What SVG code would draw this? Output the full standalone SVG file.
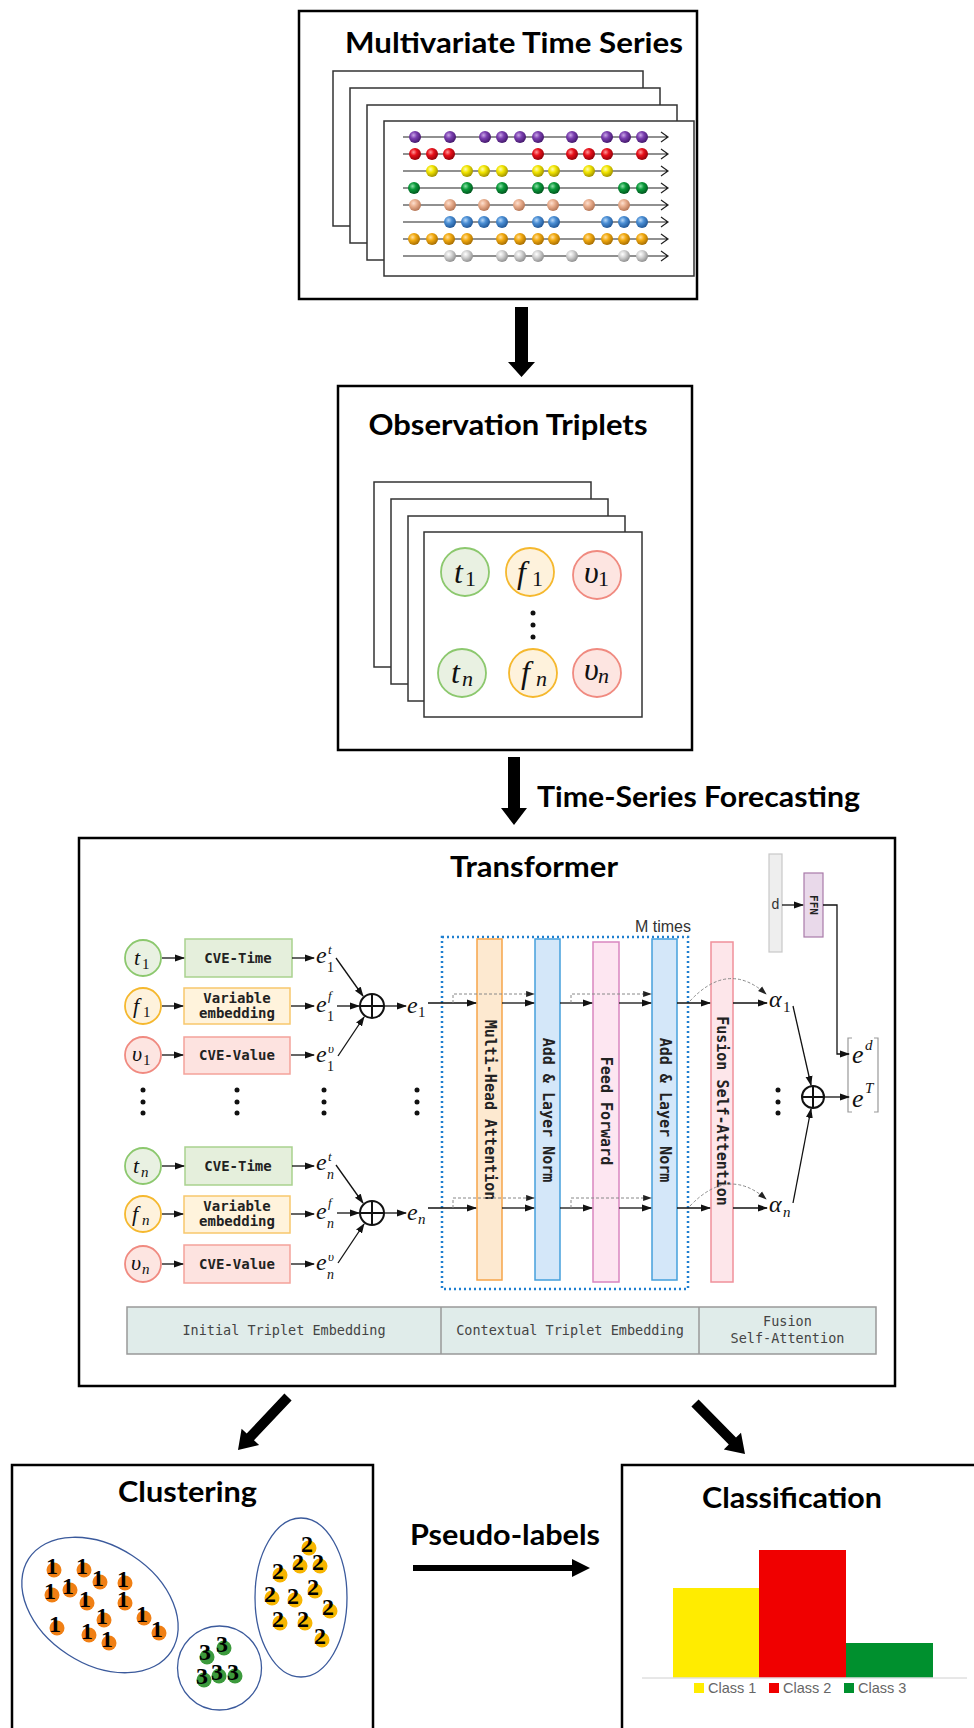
<svg xmlns="http://www.w3.org/2000/svg" width="974" height="1728" viewBox="0 0 974 1728">
<defs>
<style>
.box{fill:#fff;stroke:#000;stroke-width:2.5}
.page{fill:#fff;stroke:#333;stroke-width:1.5}
.title{font-family:Lato,"Open Sans",sans-serif;font-weight:700;font-size:28px;fill:#000}
.tl{stroke:#222;stroke-width:1.2;fill:none}
.mi{font-family:"Liberation Serif",serif;font-style:italic;fill:#111}
.mr{font-family:"Liberation Serif",serif;fill:#111}
.mono{font-family:"DejaVu Sans Mono",monospace;font-weight:700;font-size:14px;fill:#222;text-anchor:middle}
.vt{font-family:"DejaVu Sans Mono",monospace;font-weight:700;font-size:15px;fill:#222;text-anchor:middle}
.tab{font-family:"DejaVu Sans Mono",monospace;font-size:13.5px;fill:#444;text-anchor:middle}
.arr{stroke:#111;stroke-width:1.3;fill:none;marker-end:url(#ah)}
.dash{stroke:#888;stroke-width:1;stroke-dasharray:3 2;fill:none;marker-end:url(#ahg)}
.ct{fill:#e9f1e2;stroke:#8cc86e;stroke-width:1.8}
.cf{fill:#fef2dc;stroke:#f5b82e;stroke-width:1.8}
.cv{fill:#fde5e1;stroke:#f08a80;stroke-width:1.8}
.bt{fill:#e5efdc;stroke:#a9d28e;stroke-width:1.5}
.bf{fill:#fff3dc;stroke:#f8c76c;stroke-width:1.5}
.bv{fill:#fde3e0;stroke:#f4a29a;stroke-width:1.5}
.dot{fill:#111}
.op{fill:none;stroke:#111;stroke-width:2}
.num{font-family:"Liberation Serif",serif;font-weight:700;font-size:24px;fill:#000;text-anchor:middle}
.o1{fill:#f07f14}
.o2{fill:#f7b500}
.o3{fill:#3c9a3c}
.clu{fill:none;stroke:#3b5a9c;stroke-width:1.3}
.leg{font-family:"Liberation Sans",Arial,sans-serif;font-size:14.5px;fill:#666}
.bp{fill:url(#gP)}.br{fill:url(#gR)}.by{fill:url(#gY)}.bg{fill:url(#gG)}.bk{fill:url(#gK)}.bb{fill:url(#gB)}.bo{fill:url(#gO)}.bs{fill:url(#gS)}
</style>
<marker id="ah" viewBox="0 0 10 8" refX="9" refY="4" markerWidth="10" markerHeight="8" markerUnits="userSpaceOnUse" orient="auto"><path d="M0,0.5 L10,4 L0,7.5 z" fill="#111"/></marker>
<marker id="ahg" viewBox="0 0 10 8" refX="9" refY="4" markerWidth="9" markerHeight="7" markerUnits="userSpaceOnUse" orient="auto"><path d="M0,0.5 L10,4 L0,7.5 z" fill="#222"/></marker>
<radialGradient id="gP" cx="0.38" cy="0.35" r="0.7"><stop offset="0" stop-color="#c9a6e6"/><stop offset="0.4" stop-color="#7b3fb0"/><stop offset="1" stop-color="#3f1566"/></radialGradient>
<radialGradient id="gR" cx="0.38" cy="0.35" r="0.7"><stop offset="0" stop-color="#ff9a9a"/><stop offset="0.4" stop-color="#e8101a"/><stop offset="1" stop-color="#8a0008"/></radialGradient>
<radialGradient id="gY" cx="0.38" cy="0.35" r="0.7"><stop offset="0" stop-color="#fffbb0"/><stop offset="0.4" stop-color="#f2e600"/><stop offset="1" stop-color="#9a8a00"/></radialGradient>
<radialGradient id="gG" cx="0.38" cy="0.35" r="0.7"><stop offset="0" stop-color="#8de0a8"/><stop offset="0.4" stop-color="#0a9a3a"/><stop offset="1" stop-color="#00501c"/></radialGradient>
<radialGradient id="gK" cx="0.38" cy="0.35" r="0.7"><stop offset="0" stop-color="#fde0d0"/><stop offset="0.4" stop-color="#eab090"/><stop offset="1" stop-color="#b07050"/></radialGradient>
<radialGradient id="gB" cx="0.38" cy="0.35" r="0.7"><stop offset="0" stop-color="#b8d8f8"/><stop offset="0.4" stop-color="#4a8ed4"/><stop offset="1" stop-color="#1e5290"/></radialGradient>
<radialGradient id="gO" cx="0.38" cy="0.35" r="0.7"><stop offset="0" stop-color="#ffe0a0"/><stop offset="0.4" stop-color="#f2aa10"/><stop offset="1" stop-color="#a06800"/></radialGradient>
<radialGradient id="gS" cx="0.38" cy="0.35" r="0.7"><stop offset="0" stop-color="#ffffff"/><stop offset="0.4" stop-color="#d4d4d4"/><stop offset="1" stop-color="#8a8a8a"/></radialGradient>
</defs>
<rect width="974" height="1728" fill="#fff"/>

<!-- Multivariate Time Series -->
<g id="mts">
<rect class="box" x="299" y="11" width="398" height="288"/>
<text class="title" x="514" y="53" text-anchor="middle" textLength="338" lengthAdjust="spacingAndGlyphs">Multivariate Time Series</text>
<rect class="page" x="333" y="71" width="310" height="155"/>
<rect class="page" x="350" y="88" width="310" height="155"/>
<rect class="page" x="367" y="105" width="310" height="155"/>
<rect class="page" x="384" y="121" width="310" height="155"/>
<g class="tl">
<path d="M403,137 H668 M661,132 L668,137 L661,142"/>
<path d="M403,154 H668 M661,149 L668,154 L661,159"/>
<path d="M403,171 H668 M661,166 L668,171 L661,176"/>
<path d="M403,188 H668 M661,183 L668,188 L661,193"/>
<path d="M403,205 H668 M661,200 L668,205 L661,210"/>
<path d="M403,222 H668 M661,217 L668,222 L661,227"/>
<path d="M403,239 H668 M661,234 L668,239 L661,244"/>
<path d="M403,256 H668 M661,251 L668,256 L661,261"/>
</g>
<g class="bp"><circle cx="415" cy="137" r="6"/><circle cx="450" cy="137" r="6"/><circle cx="485" cy="137" r="6"/><circle cx="502" cy="137" r="6"/><circle cx="520" cy="137" r="6"/><circle cx="538" cy="137" r="6"/><circle cx="572" cy="137" r="6"/><circle cx="607" cy="137" r="6"/><circle cx="625" cy="137" r="6"/><circle cx="642" cy="137" r="6"/></g>
<g class="br"><circle cx="415" cy="154" r="6"/><circle cx="432" cy="154" r="6"/><circle cx="449" cy="154" r="6"/><circle cx="538" cy="154" r="6"/><circle cx="572" cy="154" r="6"/><circle cx="589" cy="154" r="6"/><circle cx="607" cy="154" r="6"/><circle cx="642" cy="154" r="6"/></g>
<g class="by"><circle cx="432" cy="171" r="6"/><circle cx="467" cy="171" r="6"/><circle cx="484" cy="171" r="6"/><circle cx="502" cy="171" r="6"/><circle cx="538" cy="171" r="6"/><circle cx="554" cy="171" r="6"/><circle cx="589" cy="171" r="6"/><circle cx="607" cy="171" r="6"/></g>
<g class="bg"><circle cx="414" cy="188" r="6"/><circle cx="467" cy="188" r="6"/><circle cx="502" cy="188" r="6"/><circle cx="538" cy="188" r="6"/><circle cx="554" cy="188" r="6"/><circle cx="624" cy="188" r="6"/><circle cx="642" cy="188" r="6"/></g>
<g class="bk"><circle cx="415" cy="205" r="6"/><circle cx="450" cy="205" r="6"/><circle cx="484" cy="205" r="6"/><circle cx="519" cy="205" r="6"/><circle cx="553" cy="205" r="6"/><circle cx="589" cy="205" r="6"/><circle cx="624" cy="205" r="6"/></g>
<g class="bb"><circle cx="450" cy="222" r="6"/><circle cx="467" cy="222" r="6"/><circle cx="484" cy="222" r="6"/><circle cx="502" cy="222" r="6"/><circle cx="538" cy="222" r="6"/><circle cx="554" cy="222" r="6"/><circle cx="607" cy="222" r="6"/><circle cx="624" cy="222" r="6"/><circle cx="642" cy="222" r="6"/></g>
<g class="bo"><circle cx="414" cy="239" r="6"/><circle cx="432" cy="239" r="6"/><circle cx="449" cy="239" r="6"/><circle cx="467" cy="239" r="6"/><circle cx="502" cy="239" r="6"/><circle cx="520" cy="239" r="6"/><circle cx="538" cy="239" r="6"/><circle cx="554" cy="239" r="6"/><circle cx="589" cy="239" r="6"/><circle cx="607" cy="239" r="6"/><circle cx="624" cy="239" r="6"/><circle cx="642" cy="239" r="6"/></g>
<g class="bs"><circle cx="450" cy="256" r="6"/><circle cx="467" cy="256" r="6"/><circle cx="502" cy="256" r="6"/><circle cx="520" cy="256" r="6"/><circle cx="538" cy="256" r="6"/><circle cx="572" cy="256" r="6"/><circle cx="624" cy="256" r="6"/><circle cx="642" cy="256" r="6"/></g>
</g>

<!-- Observation Triplets -->
<g id="obs">
<rect class="box" x="338" y="386" width="354" height="364"/>
<text class="title" x="508" y="435" font-size="27" text-anchor="middle" textLength="279" lengthAdjust="spacingAndGlyphs">Observation Triplets</text>
<rect class="page" x="374" y="482" width="217" height="185"/>
<rect class="page" x="391" y="499" width="217" height="185"/>
<rect class="page" x="408" y="516" width="217" height="185"/>
<rect class="page" x="424" y="532" width="218" height="185"/>
<circle class="ct" cx="465" cy="572" r="24"/>
<circle class="cf" cx="530" cy="572" r="24"/>
<circle class="cv" cx="597" cy="575" r="24"/>
<circle class="ct" cx="462" cy="673" r="24"/>
<circle class="cf" cx="533" cy="673" r="24"/>
<circle class="cv" cx="597" cy="673" r="24"/>
<text class="mi" x="454" y="583" font-size="32">t</text><text class="mr" x="465" y="586" font-size="22">1</text>
<text class="mi" x="517" y="583" font-size="32">f</text><text class="mr" x="532" y="586" font-size="22">1</text>
<text class="mi" x="584" y="583" font-size="32">υ</text><text class="mr" x="598" y="586" font-size="22">1</text>
<text class="mi" x="451" y="683" font-size="32">t</text><text class="mi" x="462" y="686" font-size="22">n</text>
<text class="mi" x="521" y="683" font-size="32">f</text><text class="mi" x="536" y="686" font-size="22">n</text>
<text class="mi" x="584" y="680" font-size="32">υ</text><text class="mi" x="598" y="683" font-size="22">n</text>
<circle class="dot" cx="533" cy="613" r="2.5"/><circle class="dot" cx="533" cy="625" r="2.5"/><circle class="dot" cx="533" cy="637" r="2.5"/>
</g>

<!-- Transformer -->
<g id="transformer">
<rect class="box" x="79" y="838" width="816" height="548"/>
<text class="title" x="450" y="877" textLength="168" lengthAdjust="spacingAndGlyphs">Transformer</text>

<g id="inputs">
<circle class="ct" cx="143" cy="958" r="18"/>
<circle class="cf" cx="143" cy="1006" r="18"/>
<circle class="cv" cx="143" cy="1055" r="18"/>
<circle class="ct" cx="143" cy="1166" r="18"/>
<circle class="cf" cx="143" cy="1214" r="18"/>
<circle class="cv" cx="143" cy="1264" r="18"/>
<text class="mi" x="134" y="965" font-size="22">t</text><text class="mr" x="142" y="969" font-size="15">1</text>
<text class="mi" x="133" y="1013" font-size="22">f</text><text class="mr" x="143" y="1017" font-size="15">1</text>
<text class="mi" x="132" y="1061" font-size="22">υ</text><text class="mr" x="143" y="1065" font-size="15">1</text>
<text class="mi" x="133" y="1173" font-size="22">t</text><text class="mi" x="141" y="1177" font-size="15">n</text>
<text class="mi" x="132" y="1221" font-size="22">f</text><text class="mi" x="142" y="1225" font-size="15">n</text>
<text class="mi" x="131" y="1270" font-size="22">υ</text><text class="mi" x="142" y="1274" font-size="15">n</text>
</g>

<g id="embeds">
<rect class="bt" x="185" y="939" width="107" height="38"/>
<rect class="bf" x="184" y="988" width="106" height="36"/>
<rect class="bv" x="184" y="1037" width="106" height="37"/>
<rect class="bt" x="185" y="1147" width="107" height="38"/>
<rect class="bf" x="184" y="1196" width="106" height="37"/>
<rect class="bv" x="184" y="1245" width="106" height="38"/>
<text class="mono" x="238" y="963">CVE-Time</text>
<text class="mono" x="237" y="1003">Variable</text><text class="mono" x="237" y="1018">embedding</text>
<text class="mono" x="237" y="1060">CVE-Value</text>
<text class="mono" x="238" y="1171">CVE-Time</text>
<text class="mono" x="237" y="1211">Variable</text><text class="mono" x="237" y="1226">embedding</text>
<text class="mono" x="237" y="1269">CVE-Value</text>
</g>

<g id="elabels">
<text class="mi" x="316" y="963" font-size="24">e</text><text class="mi" x="328" y="954" font-size="13">t</text><text class="mr" x="327" y="972" font-size="14">1</text>
<text class="mi" x="316" y="1012" font-size="24">e</text><text class="mi" x="328" y="1000" font-size="13">f</text><text class="mr" x="327" y="1021" font-size="14">1</text>
<text class="mi" x="316" y="1062" font-size="24">e</text><text class="mi" x="328" y="1053" font-size="13">υ</text><text class="mr" x="327" y="1071" font-size="14">1</text>
<text class="mi" x="316" y="1170" font-size="24">e</text><text class="mi" x="328" y="1161" font-size="13">t</text><text class="mi" x="327" y="1179" font-size="14">n</text>
<text class="mi" x="316" y="1219" font-size="24">e</text><text class="mi" x="328" y="1207" font-size="13">f</text><text class="mi" x="327" y="1228" font-size="14">n</text>
<text class="mi" x="316" y="1270" font-size="24">e</text><text class="mi" x="328" y="1261" font-size="13">υ</text><text class="mi" x="327" y="1279" font-size="14">n</text>
<circle class="op" cx="372" cy="1006" r="12"/><path class="op" d="M360,1006 H384 M372,994 V1018"/>
<circle class="op" cx="372" cy="1213" r="12"/><path class="op" d="M360,1213 H384 M372,1201 V1225"/>
<text class="mi" x="407" y="1013" font-size="24">e</text><text class="mr" x="418" y="1017" font-size="15">1</text>
<text class="mi" x="407" y="1220" font-size="24">e</text><text class="mi" x="418" y="1224" font-size="15">n</text>
</g>

<g id="dots">
<circle class="dot" cx="143" cy="1090" r="2.5"/><circle class="dot" cx="143" cy="1102" r="2.5"/><circle class="dot" cx="143" cy="1113" r="2.5"/>
<circle class="dot" cx="237" cy="1090" r="2.5"/><circle class="dot" cx="237" cy="1102" r="2.5"/><circle class="dot" cx="237" cy="1113" r="2.5"/>
<circle class="dot" cx="324" cy="1090" r="2.5"/><circle class="dot" cx="324" cy="1102" r="2.5"/><circle class="dot" cx="324" cy="1113" r="2.5"/>
<circle class="dot" cx="417" cy="1090" r="2.5"/><circle class="dot" cx="417" cy="1102" r="2.5"/><circle class="dot" cx="417" cy="1113" r="2.5"/>
<circle class="dot" cx="778" cy="1090" r="2.5"/><circle class="dot" cx="778" cy="1102" r="2.5"/><circle class="dot" cx="778" cy="1113" r="2.5"/>
</g>

<g id="mtimes">
<rect x="442" y="937" width="246" height="352" fill="none" stroke="#1f7fd0" stroke-width="2.5" stroke-dasharray="2 3"/>
<text x="691" y="932" text-anchor="end" font-family="'Liberation Sans',Arial,sans-serif" font-size="16" fill="#333">M times</text>
</g>

<g id="mha"><rect x="477" y="939" width="25" height="341" fill="#fde9d0" stroke="#f6a54a" stroke-width="1.5"/><text class="vt" transform="translate(489.5,1110) rotate(90)" y="5">Multi-Head Attention</text></g>
<g id="addnorm1"><rect x="535" y="939" width="25" height="341" fill="#d4e7f9" stroke="#45a0dc" stroke-width="1.5"/><text class="vt" transform="translate(547.5,1110) rotate(90)" y="5">Add &amp; Layer Norm</text></g>
<g id="ff"><rect x="593" y="942" width="26" height="340" fill="#fde6f1" stroke="#d986c0" stroke-width="1.5"/><text class="vt" transform="translate(606,1111) rotate(90)" y="5">Feed Forward</text></g>
<g id="addnorm2"><rect x="652" y="939" width="25" height="341" fill="#d4e7f9" stroke="#45a0dc" stroke-width="1.5"/><text class="vt" transform="translate(664.5,1110) rotate(90)" y="5">Add &amp; Layer Norm</text></g>
<g id="fusion"><rect x="711" y="942" width="22" height="340" fill="#fde6ea" stroke="#f0909a" stroke-width="1.5"/><text class="vt" transform="translate(722,1111) rotate(90)" y="5">Fusion Self-Attention</text></g>

<g id="dbar"><rect x="769" y="854" width="13" height="98" fill="#eeeeee" stroke="#c8c8c8" stroke-width="1.2"/><text x="775.5" y="909" text-anchor="middle" font-family="'Liberation Sans',Arial,sans-serif" font-size="14" fill="#333">d</text></g>
<g id="ffn"><rect x="804" y="873" width="19" height="64" fill="#e9d9ea" stroke="#a97aa9" stroke-width="1.2"/><text transform="translate(813.5,905) rotate(90)" y="4" text-anchor="middle" font-family="'DejaVu Sans Mono',monospace" font-weight="700" font-size="11" fill="#222">FFN</text></g>

<g id="output">
<text class="mi" x="769" y="1007" font-size="24">α</text><text class="mr" x="783" y="1012" font-size="15">1</text>
<text class="mi" x="769" y="1212" font-size="24">α</text><text class="mi" x="783" y="1217" font-size="15">n</text>
<circle class="op" cx="813" cy="1097" r="11"/><path class="op" d="M802,1097 H824 M813,1086 V1108"/>
<path d="M852,1038 H848 V1112 H852 M874,1038 H878 V1112 H874" fill="none" stroke="#999" stroke-width="1.2"/>
<text class="mi" x="852" y="1063" font-size="26">e</text><text class="mi" x="865" y="1050" font-size="15">d</text>
<text class="mi" x="852" y="1107" font-size="26">e</text><text class="mi" x="865" y="1093" font-size="15">T</text>
</g>

<g id="table">
<rect x="127" y="1307" width="749" height="47" fill="#e0ecea" stroke="#999" stroke-width="1.5"/>
<path d="M441,1307 V1354 M699,1307 V1354" stroke="#999" stroke-width="1.5"/>
<text class="tab" x="284" y="1335">Initial Triplet Embedding</text>
<text class="tab" x="570" y="1335">Contextual Triplet Embedding</text>
<text class="tab" x="787.5" y="1326">Fusion</text>
<text class="tab" x="787.5" y="1343">Self-Attention</text>
</g>
</g>

<!-- Clustering -->
<g id="clustering">
<rect class="box" x="12" y="1465" width="361" height="290"/>
<text class="title" x="187.5" y="1502" text-anchor="middle" textLength="139" lengthAdjust="spacingAndGlyphs">Clustering</text>
<ellipse class="clu" cx="100" cy="1605" rx="85" ry="59" transform="rotate(33 100 1605)"/>
<circle class="clu" cx="219.5" cy="1668" r="42"/>
<ellipse class="clu" cx="301" cy="1597.5" rx="46" ry="79.5"/>
<g class="o1">
<circle cx="54" cy="1570" r="7.5"/><circle cx="84" cy="1570" r="7.5"/><circle cx="100" cy="1582" r="7.5"/><circle cx="125" cy="1583" r="7.5"/><circle cx="52" cy="1595" r="7.5"/><circle cx="70" cy="1590" r="7.5"/><circle cx="87" cy="1603" r="7.5"/><circle cx="125" cy="1603" r="7.5"/><circle cx="104" cy="1620" r="7.5"/><circle cx="144" cy="1618" r="7.5"/><circle cx="57" cy="1628" r="7.5"/><circle cx="89" cy="1635" r="7.5"/><circle cx="109" cy="1643" r="7.5"/><circle cx="159" cy="1633" r="7.5"/>
</g>
<g class="num">
<text x="52" y="1574">1</text><text x="82" y="1574">1</text><text x="98" y="1586">1</text><text x="123" y="1587">1</text><text x="50" y="1599">1</text><text x="68" y="1594">1</text><text x="85" y="1607">1</text><text x="123" y="1607">1</text><text x="102" y="1624">1</text><text x="142" y="1622">1</text><text x="55" y="1632">1</text><text x="87" y="1639">1</text><text x="107" y="1647">1</text><text x="157" y="1637">1</text>
</g>
<g class="o2">
<circle cx="309" cy="1548" r="7.5"/><circle cx="300" cy="1566" r="7.5"/><circle cx="320" cy="1566" r="7.5"/><circle cx="280" cy="1575" r="7.5"/><circle cx="272" cy="1598" r="7.5"/><circle cx="295" cy="1600" r="7.5"/><circle cx="315" cy="1591" r="7.5"/><circle cx="330" cy="1611" r="7.5"/><circle cx="280" cy="1623" r="7.5"/><circle cx="305" cy="1623" r="7.5"/><circle cx="322" cy="1640" r="7.5"/>
</g>
<g class="num">
<text x="307" y="1552">2</text><text x="298" y="1570">2</text><text x="318" y="1570">2</text><text x="278" y="1579">2</text><text x="270" y="1602">2</text><text x="293" y="1604">2</text><text x="313" y="1595">2</text><text x="328" y="1615">2</text><text x="278" y="1627">2</text><text x="303" y="1627">2</text><text x="320" y="1644">2</text>
</g>
<g class="o3">
<circle cx="207" cy="1657" r="7.5"/><circle cx="224" cy="1648" r="7.5"/><circle cx="204" cy="1680" r="7.5"/><circle cx="219" cy="1676" r="7.5"/><circle cx="235" cy="1676" r="7.5"/>
</g>
<g class="num">
<text x="205" y="1660">3</text><text x="222" y="1652">3</text><text x="202" y="1684">3</text><text x="217" y="1680">3</text><text x="233" y="1680">3</text>
</g>
</g>

<!-- Classification -->
<g id="classification">
<rect class="box" x="622" y="1465" width="360" height="290"/>
<text class="title" x="792" y="1508" text-anchor="middle" textLength="180" lengthAdjust="spacingAndGlyphs">Classification</text>
<rect x="673" y="1588" width="86" height="89.5" fill="#ffec00"/>
<rect x="759" y="1550" width="87" height="127.5" fill="#f00000"/>
<rect x="846" y="1643" width="87" height="34.5" fill="#00902e"/>
<line x1="642" y1="1678" x2="967" y2="1678" stroke="#d0d0d0" stroke-width="1"/>
<rect x="694" y="1683" width="10" height="10" fill="#ffec00"/><text class="leg" x="708" y="1693">Class 1</text>
<rect x="769" y="1683" width="10" height="10" fill="#f00000"/><text class="leg" x="783" y="1693">Class 2</text>
<rect x="844" y="1683" width="10" height="10" fill="#00902e"/><text class="leg" x="858" y="1693">Class 3</text>
</g>

<!-- Connectors -->
<g id="connectors">
<polygon points="515,307 528,307 528,362 535,362 521.5,377 508,362 515,362" fill="#000"/>
<polygon points="508,757 520,757 520,808 527,808 514,825 501,808 508,808" fill="#000"/>
<text class="title" x="537" y="807" textLength="323" lengthAdjust="spacingAndGlyphs">Time-Series Forecasting</text>
<polygon points="291.6,1400.4 254,1440.3 259.1,1445.1 238,1450 241.6,1428.7 246.7,1433.5 284.4,1393.6" fill="#000"/>
<polygon points="691.4,1406.5 728.8,1444.6 723.8,1449.5 745,1454 741,1432.8 736,1437.6 698.6,1399.5" fill="#000"/>
<text class="title" x="410" y="1545" textLength="190" lengthAdjust="spacingAndGlyphs">Pseudo-labels</text>
<polygon points="413,1565 572,1565 572,1559 590,1568 572,1577 572,1571 413,1571" fill="#000"/>

<g id="tconn">
<line class="arr" x1="162" y1="958" x2="184" y2="958"/>
<line class="arr" x1="162" y1="1006" x2="183" y2="1006"/>
<line class="arr" x1="162" y1="1055" x2="183" y2="1055"/>
<line class="arr" x1="162" y1="1166" x2="184" y2="1166"/>
<line class="arr" x1="162" y1="1214" x2="183" y2="1214"/>
<line class="arr" x1="162" y1="1264" x2="183" y2="1264"/>
<line class="arr" x1="292" y1="958" x2="314" y2="958"/>
<line class="arr" x1="291" y1="1006" x2="314" y2="1006"/>
<line class="arr" x1="291" y1="1055" x2="314" y2="1055"/>
<line class="arr" x1="292" y1="1166" x2="314" y2="1166"/>
<line class="arr" x1="291" y1="1214" x2="314" y2="1214"/>
<line class="arr" x1="291" y1="1264" x2="314" y2="1264"/>
<line class="arr" x1="336" y1="958" x2="363" y2="996"/>
<line class="arr" x1="337" y1="1006" x2="359" y2="1006"/>
<line class="arr" x1="338" y1="1056" x2="364" y2="1017"/>
<line class="arr" x1="336" y1="1165" x2="363" y2="1203"/>
<line class="arr" x1="337" y1="1213" x2="359" y2="1213"/>
<line class="arr" x1="338" y1="1263" x2="364" y2="1224"/>
<line class="arr" x1="384" y1="1006" x2="406" y2="1006"/>
<line class="arr" x1="384" y1="1213" x2="406" y2="1213"/>

<line class="arr" x1="428" y1="1003" x2="476" y2="1003"/>
<line class="arr" x1="502" y1="1003" x2="534" y2="1003"/>
<line class="arr" x1="560" y1="1003" x2="592" y2="1003"/>
<line class="arr" x1="619" y1="1003" x2="651" y2="1003"/>
<line class="arr" x1="677" y1="1003" x2="710" y2="1003"/>
<line class="arr" x1="733" y1="1003" x2="767" y2="1003"/>
<path class="dash" d="M453,1003 V994 H534"/>
<path class="dash" d="M571,1003 V994 H651"/>
<path class="dash" d="M690,1001 Q728,960 766,994"/>

<line class="arr" x1="428" y1="1208" x2="476" y2="1208"/>
<line class="arr" x1="502" y1="1208" x2="534" y2="1208"/>
<line class="arr" x1="560" y1="1208" x2="592" y2="1208"/>
<line class="arr" x1="619" y1="1208" x2="651" y2="1208"/>
<line class="arr" x1="677" y1="1208" x2="710" y2="1208"/>
<line class="arr" x1="733" y1="1208" x2="767" y2="1208"/>
<path class="dash" d="M453,1208 V1198 H534"/>
<path class="dash" d="M571,1208 V1198 H651"/>
<path class="dash" d="M690,1206 Q728,1166 766,1199"/>

<line class="arr" x1="793" y1="1006" x2="811" y2="1085"/>
<line class="arr" x1="793" y1="1203" x2="811" y2="1109"/>
<line class="arr" x1="824" y1="1097" x2="849" y2="1097"/>
<line class="arr" x1="782" y1="905" x2="803" y2="905" stroke-width="1"/>
<path class="arr" d="M823,905 H837 V1054 H849" stroke="#444" stroke-width="1"/>
</g>
</g>
</svg>
